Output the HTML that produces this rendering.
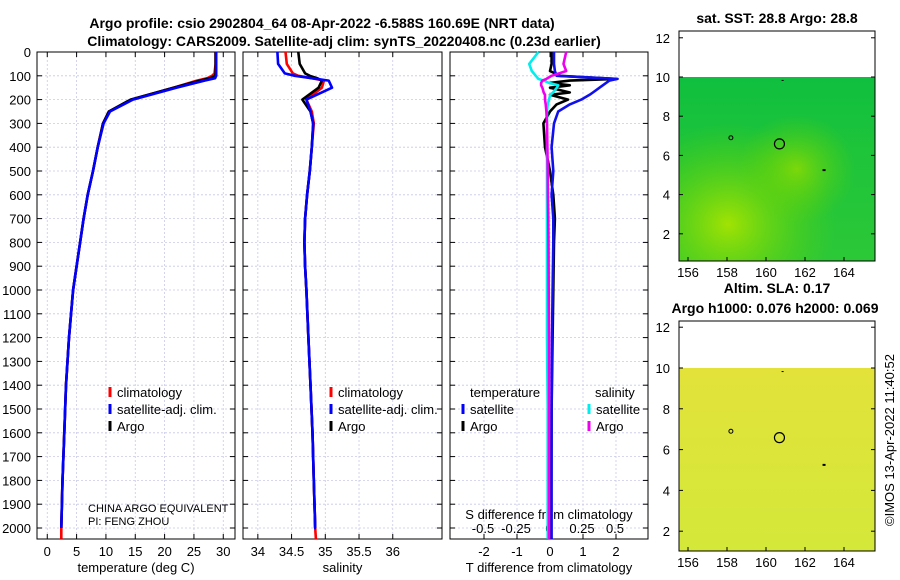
<!DOCTYPE html>
<html><head><meta charset="utf-8">
<style>
body{margin:0;background:#fff;}
svg{display:block;font-family:"Liberation Sans",sans-serif;}
.t{font-size:13px;fill:#000;}
.b{font-size:14px;font-weight:bold;fill:#000;}
</style></head>
<body>
<svg id="c" width="900" height="580" viewBox="0 0 900 580">
<defs>
<linearGradient id="g1" x1="0" y1="0" x2="0" y2="1"><stop offset="0" stop-color="#0fbf3f"/><stop offset="0.4" stop-color="#1ec43a"/><stop offset="1" stop-color="#2cc838"/></linearGradient>
<radialGradient id="r1" cx="0.25" cy="0.8" r="0.55"><stop offset="0" stop-color="#a8e400" stop-opacity="0.95"/><stop offset="1" stop-color="#60d000" stop-opacity="0"/></radialGradient>
<radialGradient id="r2" cx="0.6" cy="0.5" r="0.3"><stop offset="0" stop-color="#90dc00" stop-opacity="0.8"/><stop offset="1" stop-color="#60d000" stop-opacity="0"/></radialGradient>
<linearGradient id="g2" x1="0" y1="0" x2="0" y2="1"><stop offset="0" stop-color="#e2e23a"/><stop offset="1" stop-color="#d4e83a"/></linearGradient>
</defs>
<text class="b" x="322" y="28" text-anchor="middle">Argo profile: csio 2902804_64 08-Apr-2022 -6.588S 160.69E (NRT data)</text>
<text class="b" x="344" y="46" text-anchor="middle">Climatology: CARS2009. Satellite-adj clim: synTS_20220408.nc (0.23d earlier)</text>
<g id="p1"></g>
<g id="p2"></g>
<g id="p3"></g>
<g id="m1"></g>
<g id="m2"></g>
<text class="t" transform="translate(894,440) rotate(-90)" text-anchor="middle">©IMOS 13-Apr-2022 11:40:52</text>
</svg>
<script>
const depthTicks=[0,100,200,300,400,500,600,700,800,900,1000,1100,1200,1300,1400,1500,1600,1700,1800,1900,2000];
const depths=[0,50,90,100,110,120,150,200,250,300,400,500,600,700,800,900,1000,1200,1400,1600,1800,2000,2046];
const tempArgo=[28.7,28.7,28.7,28.6,27.8,26.0,21.5,14.2,10.5,9.5,8.6,7.8,6.9,6.2,5.6,5.0,4.4,3.7,3.2,2.9,2.6,2.4,2.4];
const tempClim=[28.7,28.7,28.5,28.1,27.3,25.5,21.5,14.3,10.5,9.5,8.6,7.8,6.9,6.2,5.6,5.0,4.4,3.7,3.2,2.9,2.6,2.4,2.4];
const tempSat=[28.8,28.8,28.8,28.8,28.6,26.8,22.0,14.6,10.7,9.6,8.6,7.8,6.9,6.2,5.6,5.0,4.4,3.7,3.2,2.9,2.6,2.4,2.4];
const salArgo=[34.60,34.62,34.70,34.77,34.88,34.95,34.90,34.66,34.78,34.82,34.80,34.77,34.73,34.70,34.69,34.70,34.72,34.75,34.78,34.81,34.83,34.85,34.86];
const salClim=[34.41,34.43,34.52,34.60,34.80,34.98,34.95,34.72,34.80,34.83,34.80,34.77,34.73,34.70,34.69,34.70,34.72,34.75,34.78,34.81,34.83,34.85,34.86];
const salSat=[34.29,34.30,34.40,34.55,34.80,35.05,35.10,34.72,34.78,34.82,34.80,34.77,34.73,34.70,34.69,34.70,34.72,34.75,34.78,34.81,34.83,34.85,34.86];
const dDepths=[0,50,80,100,113,120,130,140,150,170,180,200,220,250,300,400,500,600,700,800,1000,1200,1500,2000,2046];
const dTArgo=[0.05,0.05,0.0,0.3,2.0,0.6,0.0,0.6,0.0,0.6,0.0,0.55,0.2,0.0,-0.2,-0.15,0.0,0.1,0.15,0.12,0.1,0.08,0.05,0.03,0.03];
const dTSat=[0.12,0.12,0.15,0.2,2.05,1.8,1.7,1.6,1.5,1.3,1.2,0.95,0.6,0.25,0.12,0.05,0.1,0.05,0.1,0.1,0.08,0.06,0.05,0.05,0.05];
const dSSat=[-0.08,-0.15,-0.13,-0.1,-0.08,-0.04,0.0,0.07,0.06,0.03,0.01,0.0,-0.01,-0.015,-0.015,-0.015,-0.015,-0.015,-0.015,-0.015,-0.015,-0.015,-0.01,-0.01,-0.01];
const dSArgo=[0.13,0.11,0.13,0.02,-0.02,-0.05,-0.06,-0.06,-0.05,-0.04,-0.03,-0.03,-0.025,-0.02,-0.015,-0.012,-0.01,-0.008,-0.005,-0.004,-0.002,0,0,0,0];
const tTicks=[0,5,10,15,20,25,30];
const sTicks=[34,34.5,35,35.5,36];
const dtTicks=[-2,-1,0,1,2];
const dsTicks=[-0.5,-0.25,0,0.25,0.5];
const lonTicks=[156,158,160,162,164];
const latTicks=[2,4,6,8,10,12];

const NS='http://www.w3.org/2000/svg';
function el(tag,attrs,parent,txt){const e=document.createElementNS(NS,tag);for(const k in attrs)e.setAttribute(k,attrs[k]);if(txt!==undefined)e.textContent=txt;parent.appendChild(e);return e;}
const Y0=52,YB=539;
const yD=d=>Y0+d*0.238;
function panel(g,x0,x1,xmin,xmax,ticks,fmt,xlabel,name){
  const xs=v=>x0+(v-xmin)/(xmax-xmin)*(x1-x0);
  ticks.forEach(v=>{const l=el('line',{x1:xs(v),x2:xs(v),y1:Y0,y2:YB,stroke:'#c8c8e8','stroke-dasharray':'2,2','stroke-width':0.8},g);
    });
  depthTicks.forEach(d=>{const l=el('line',{x1:x0,x2:x1,y1:yD(d),y2:yD(d),stroke:'#c8c8e8','stroke-dasharray':'2,2','stroke-width':0.8},g);
    
    el('line',{x1:x0,x2:x0+5,y1:yD(d),y2:yD(d),stroke:'#000'},g);el('line',{x1:x1-5,x2:x1,y1:yD(d),y2:yD(d),stroke:'#000'},g);});
  ticks.forEach(v=>{el('line',{x1:xs(v),x2:xs(v),y1:YB,y2:YB-5,stroke:'#000'},g);el('line',{x1:xs(v),x2:xs(v),y1:Y0,y2:Y0+5,stroke:'#000'},g);
    if(fmt){const t=el('text',{class:'t',x:xs(v),y:556,'text-anchor':'middle'},g,fmt(v));}});
  const f=el('rect',{x:x0,y:Y0,width:x1-x0,height:YB-Y0,fill:'none',stroke:'#000','stroke-width':1},g);
  
  if(xlabel){const t=el('text',{class:'t',x:(x0+x1)/2,y:572,'text-anchor':'middle'},g,xlabel);}
  return xs;
}
function line(g,xs,vals,ds,color,name){
  const pts=vals.map((v,i)=>xs(v).toFixed(1)+','+yD(ds[i]).toFixed(1)).join(' ');
  const p=el('polyline',{points:pts,fill:'none',stroke:color,'stroke-width':2.6,'stroke-linejoin':'round'},g);
  
}
function legend(g,x,y,color,label,name){
  el('line',{x1:x,x2:x,y1:y-10,y2:y,stroke:color,'stroke-width':3},g);
  const t=el('text',{class:'t',x:x+7,y:y},g,label);
  
}
const g1=document.getElementById('p1');
const xs1=panel(g1,37,235,-1.75,32,tTicks,v=>String(v),'temperature (deg C)','temp');
depthTicks.forEach(d=>{const t=el('text',{class:'t',x:31,y:yD(d)+5,'text-anchor':'end'},g1,String(d));});
line(g1,xs1,tempClim,depths,'#ff0000','temp-climatology-line');
line(g1,xs1,tempArgo,depths.map(d=>Math.min(d,2000)),'#000000','temp-argo-line');
line(g1,xs1,tempSat,depths.map(d=>Math.min(d,2000)),'#0000ff','temp-satellite-line');
legend(g1,110,397,'#ff0000','climatology','legend-climatology');
legend(g1,110,414,'#0000ff','satellite-adj. clim.','legend-satellite');
legend(g1,110,431,'#000','Argo','legend-argo');
el('text',{x:88,y:512,'font-size':'11px'},g1,'CHINA ARGO EQUIVALENT');
el('text',{x:88,y:525,'font-size':'11px'},g1,'PI: FENG ZHOU');
const g2=document.getElementById('p2');
const xs2=panel(g2,243,442,33.78,36.73,sTicks,v=>String(v),'salinity','sal');
line(g2,xs2,salClim,depths,'#ff0000','sal-climatology-line');
line(g2,xs2,salArgo,depths.map(d=>Math.min(d,2000)),'#000000','sal-argo-line');
line(g2,xs2,salSat,depths.map(d=>Math.min(d,2000)),'#0000ff','sal-satellite-line');
legend(g2,331,397,'#ff0000','climatology','legend-climatology');
legend(g2,331,414,'#0000ff','satellite-adj. clim.','legend-satellite');
legend(g2,331,431,'#000','Argo','legend-argo');
const g3=document.getElementById('p3');
const xs3=panel(g3,450,648,-3.03,2.97,dtTicks,null,'T difference from climatology','diff');
dtTicks.forEach(v=>{const t=el('text',{class:'t',x:xs3(v),y:556,'text-anchor':'middle'},g3,String(v));});
const xs3s=v=>549+v*132;
dsTicks.forEach(v=>{const t=el('text',{class:'t',x:xs3s(v),y:533,'text-anchor':'middle'},g3,String(v));});
el('text',{class:'t',x:549,y:519,'text-anchor':'middle'},g3,'S difference from climatology');
line(g3,xs3,dTArgo,dDepths,'#000000','dT-argo-line');
line(g3,xs3,dTSat,dDepths,'#1010ee','dT-satellite-line');
line(g3,xs3s,dSSat,dDepths,'#00eeee','dS-satellite-line');
line(g3,xs3s,dSArgo,dDepths,'#ee00ee','dS-argo-line');
el('text',{class:'t',x:470,y:397},g3,'temperature');
el('text',{class:'t',x:595,y:397},g3,'salinity');
legend(g3,463,414,'#0000ff','satellite','legend-t-satellite');
legend(g3,463,431,'#000','Argo','legend-t-argo');
legend(g3,589,414,'#00eeee','satellite','legend-s-satellite');
legend(g3,589,431,'#ee00ee','Argo','legend-s-argo');
function map(g,y0,y1,latTop,pxPerLat,fill,title1,title2,name){
  const lonX=lon=>688+(lon-156)*19.5, latY=lat=>latTop+(10-lat)*pxPerLat;
  el('rect',{x:679,y:latTop,width:196,height:y1-latTop,fill:fill},g);
  if(name==='sst'){el('rect',{x:679,y:latTop,width:196,height:y1-latTop,fill:'url(#r1)'},g);el('rect',{x:679,y:latTop,width:196,height:y1-latTop,fill:'url(#r2)'},g);}
  const f=el('rect',{x:679,y:y0,width:196,height:y1-y0,fill:'none',stroke:'#000'},g);
  
  lonTicks.forEach(v=>{el('line',{x1:lonX(v),x2:lonX(v),y1:y1,y2:y1-4,stroke:'#000'},g);
    const t=el('text',{class:'t',x:lonX(v),y:y1+16,'text-anchor':'middle'},g,String(v));});
  latTicks.forEach(v=>{el('line',{x1:679,x2:683,y1:latY(v),y2:latY(v),stroke:'#000'},g);el('line',{x1:871,x2:875,y1:latY(v),y2:latY(v),stroke:'#000'},g);
    const t=el('text',{class:'t',x:670,y:latY(v)+5,'text-anchor':'end'},g,String(v));});
  const c=el('circle',{cx:lonX(160.69),cy:latY(6.588),r:5,fill:'none',stroke:'#000','stroke-width':1.2},g);
  
  el('circle',{cx:lonX(158.2),cy:latY(6.9),r:2,fill:'none',stroke:'#000'},g);
  el('rect',{x:lonX(162.9),y:latY(5.3),width:3,height:2,fill:'#000'},g);
  el('rect',{x:lonX(160.8),y:latY(9.85),width:2,height:1,fill:'#000'},g);
  const t1=el('text',{class:'b',x:777,y:title2?y0-28:y0-8,'text-anchor':'middle'},g,title1);
  if(title2){const t2=el('text',{class:'b',x:775,y:y0-8,'text-anchor':'middle'},g,title2);}
}
map(document.getElementById('m1'),31,261,77,19.6,'url(#g1)','sat. SST: 28.8 Argo: 28.8',null,'sst');
map(document.getElementById('m2'),321,551,368,20.4,'url(#g2)','Altim. SLA: 0.17','Argo h1000: 0.076 h2000: 0.069','sla');
</script>
</body></html>
